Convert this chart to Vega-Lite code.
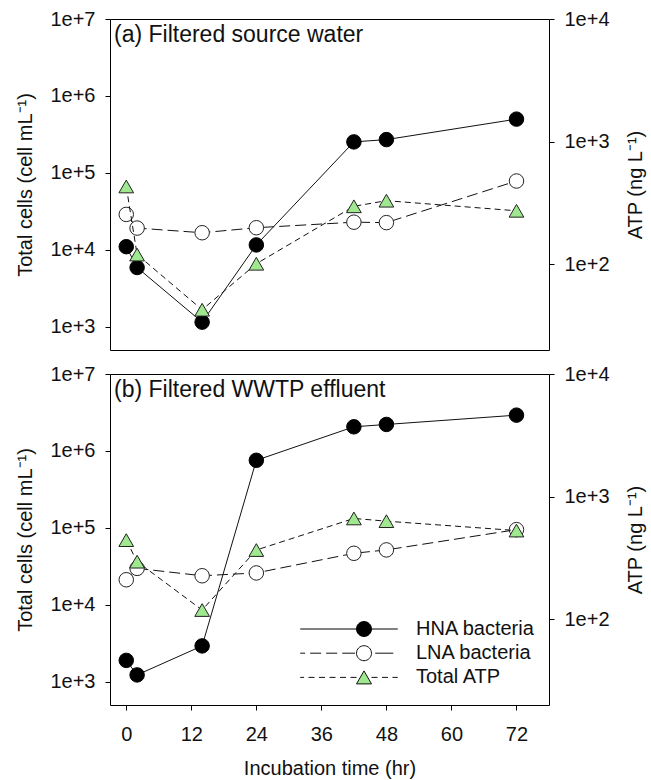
{
  "$schema": "https://vega.github.io/schema/vega-lite/v6.json",
  "padding": {"left": 15, "top": 8, "right": 5, "bottom": 5},
  "background": "white",
  "spacing": 24,
  "bounds": "flush",
  "datasets": {
    "obs": [
      {"panel": "a", "series": "HNA bacteria", "time": 0, "value": 11000},
      {"panel": "a", "series": "HNA bacteria", "time": 2, "value": 5900},
      {"panel": "a", "series": "HNA bacteria", "time": 14, "value": 1150},
      {"panel": "a", "series": "HNA bacteria", "time": 24, "value": 11600},
      {"panel": "a", "series": "HNA bacteria", "time": 42, "value": 253000},
      {"panel": "a", "series": "HNA bacteria", "time": 48, "value": 271000},
      {"panel": "a", "series": "HNA bacteria", "time": 72, "value": 500000},
      {"panel": "a", "series": "LNA bacteria", "time": 0, "value": 28900},
      {"panel": "a", "series": "LNA bacteria", "time": 2, "value": 19200},
      {"panel": "a", "series": "LNA bacteria", "time": 14, "value": 16700},
      {"panel": "a", "series": "LNA bacteria", "time": 24, "value": 19400},
      {"panel": "a", "series": "LNA bacteria", "time": 42, "value": 22900},
      {"panel": "a", "series": "LNA bacteria", "time": 48, "value": 22600},
      {"panel": "a", "series": "LNA bacteria", "time": 72, "value": 78500},
      {"panel": "a", "series": "Total ATP", "time": 0, "value": 431},
      {"panel": "a", "series": "Total ATP", "time": 2, "value": 120},
      {"panel": "a", "series": "Total ATP", "time": 14, "value": 42.6},
      {"panel": "a", "series": "Total ATP", "time": 24, "value": 101},
      {"panel": "a", "series": "Total ATP", "time": 42, "value": 297},
      {"panel": "a", "series": "Total ATP", "time": 48, "value": 330},
      {"panel": "a", "series": "Total ATP", "time": 72, "value": 273},
      {"panel": "b", "series": "HNA bacteria", "time": 0, "value": 1900},
      {"panel": "b", "series": "HNA bacteria", "time": 2, "value": 1230},
      {"panel": "b", "series": "HNA bacteria", "time": 14, "value": 2930},
      {"panel": "b", "series": "HNA bacteria", "time": 24, "value": 756000},
      {"panel": "b", "series": "HNA bacteria", "time": 42, "value": 2060000},
      {"panel": "b", "series": "HNA bacteria", "time": 48, "value": 2210000},
      {"panel": "b", "series": "HNA bacteria", "time": 72, "value": 2920000},
      {"panel": "b", "series": "LNA bacteria", "time": 0, "value": 21200},
      {"panel": "b", "series": "LNA bacteria", "time": 2, "value": 29800},
      {"panel": "b", "series": "LNA bacteria", "time": 14, "value": 23900},
      {"panel": "b", "series": "LNA bacteria", "time": 24, "value": 26000},
      {"panel": "b", "series": "LNA bacteria", "time": 42, "value": 46800},
      {"panel": "b", "series": "LNA bacteria", "time": 48, "value": 51800},
      {"panel": "b", "series": "LNA bacteria", "time": 72, "value": 95000},
      {"panel": "b", "series": "Total ATP", "time": 0, "value": 442},
      {"panel": "b", "series": "Total ATP", "time": 2, "value": 295},
      {"panel": "b", "series": "Total ATP", "time": 14, "value": 119},
      {"panel": "b", "series": "Total ATP", "time": 24, "value": 367},
      {"panel": "b", "series": "Total ATP", "time": 42, "value": 664},
      {"panel": "b", "series": "Total ATP", "time": 48, "value": 631},
      {"panel": "b", "series": "Total ATP", "time": 72, "value": 529}
    ]
  },
  "vconcat": [
    {
      "width": 439,
      "height": 331,
      "data": {"name": "obs"},
      "transform": [{"filter": "datum.panel == 'a'"}],
      "title": {"text": "(a) Filtered source water", "anchor": "start", "frame": "group", "orient": "top", "baseline": "top", "offset": 0, "dx": 4, "dy": 38, "fontSize": 23, "font": "Liberation Sans", "fontWeight": "normal", "color": "#111"},
      "encoding": {
        "x": {"field": "time", "type": "quantitative", "scale": {"domain": [-3, 78], "nice": false, "zero": false}, "axis": null}
      },
      "layer": [
        {
          "encoding": {
            "y": {"field": "value", "type": "quantitative", "scale": {"type": "log", "domain": [500, 10000000], "nice": false},
              "axis": {"title": "Total cells (cell mL⁻¹)", "values": [1000, 10000, 100000, 1000000, 10000000], "labelExpr": "'1e+' + round(log(datum.value) / LN10)", "labelPadding": 10, "titlePadding": 14}}
          },
          "layer": [
            {"transform": [{"filter": "datum.series == 'HNA bacteria'"}], "mark": {"type": "line", "stroke": "#111", "strokeWidth": 1}},
            {"transform": [{"filter": "datum.series == 'LNA bacteria'"}], "mark": {"type": "line", "stroke": "#111", "strokeWidth": 1, "strokeDash": [11, 5]}},
            {"transform": [{"filter": "datum.series == 'HNA bacteria'"}], "mark": {"type": "point", "shape": "circle", "filled": true, "fill": "#000", "stroke": "#000", "strokeWidth": 1, "size": 210, "opacity": 1}},
            {"transform": [{"filter": "datum.series == 'LNA bacteria'"}], "mark": {"type": "point", "shape": "circle", "filled": true, "fill": "#fff", "stroke": "#222", "strokeWidth": 1, "size": 210, "opacity": 1}}
          ]
        },
        {
          "transform": [{"filter": "datum.series == 'Total ATP'"}],
          "encoding": {
            "y": {"field": "value", "type": "quantitative", "scale": {"type": "log", "domain": [20, 10000], "nice": false},
              "axis": {"orient": "right", "title": "ATP (ng L⁻¹)", "values": [100, 1000, 10000], "labelExpr": "'1e+' + round(log(datum.value) / LN10)", "labelPadding": 10, "titlePadding": 16, "titleAngle": 270, "titleBaseline": "top"}}
          },
          "layer": [
            {"mark": {"type": "line", "stroke": "#111", "strokeWidth": 1, "strokeDash": [6, 4]}},
            {"mark": {"type": "point", "shape": "triangle-up", "filled": true, "fill": "#a0e890", "stroke": "#222", "strokeWidth": 1, "size": 216, "opacity": 1}}
          ]
        }
      ],
      "resolve": {"scale": {"y": "independent"}}
    },
    {
      "width": 439,
      "height": 331,
      "data": {"name": "obs"},
      "transform": [{"filter": "datum.panel == 'b'"}],
      "title": {"text": "(b) Filtered WWTP effluent", "anchor": "start", "frame": "group", "orient": "top", "baseline": "top", "offset": 0, "dx": 4, "dy": 38, "fontSize": 23, "font": "Liberation Sans", "fontWeight": "normal", "color": "#111"},
      "encoding": {
        "x": {"field": "time", "type": "quantitative", "scale": {"domain": [-3, 78], "nice": false, "zero": false},
          "axis": {"title": "Incubation time (hr)", "values": [0, 12, 24, 36, 48, 60, 72], "labelPadding": 14, "titlePadding": 14, "labelFlush": false}}
      },
      "layer": [
        {
          "encoding": {
            "y": {"field": "value", "type": "quantitative", "scale": {"type": "log", "domain": [500, 10000000], "nice": false},
              "axis": {"title": "Total cells (cell mL⁻¹)", "values": [1000, 10000, 100000, 1000000, 10000000], "labelExpr": "'1e+' + round(log(datum.value) / LN10)", "labelPadding": 10, "titlePadding": 14}}
          },
          "layer": [
            {"transform": [{"filter": "datum.series == 'HNA bacteria'"}], "mark": {"type": "line", "stroke": "#111", "strokeWidth": 1}},
            {"transform": [{"filter": "datum.series == 'LNA bacteria'"}], "mark": {"type": "line", "stroke": "#111", "strokeWidth": 1, "strokeDash": [11, 5]}},
            {"transform": [{"filter": "datum.series == 'HNA bacteria'"}], "mark": {"type": "point", "shape": "circle", "filled": true, "fill": "#000", "stroke": "#000", "strokeWidth": 1, "size": 210, "opacity": 1}},
            {"transform": [{"filter": "datum.series == 'LNA bacteria'"}], "mark": {"type": "point", "shape": "circle", "filled": true, "fill": "#fff", "stroke": "#222", "strokeWidth": 1, "size": 210, "opacity": 1}},
            {
              "transform": [{"filter": "false"}],
              "mark": {"type": "point", "filled": true, "strokeWidth": 1, "size": 225, "opacity": 1},
              "encoding": {
                "shape": {"field": "series", "type": "nominal",
                  "scale": {"domain": ["HNA bacteria", "LNA bacteria", "Total ATP"],
                    "range": [
                      "M-8.5,0H-1M1,0H4.5M-1,0A1,1,0,1,1,1,0A1,1,0,1,1,-1,0Z",
                      "M-8.5,0H-7.85M-7.18,0H-5.71M-5.04,0H-3.57M-2.9,0H-1.2M1.5,0H3.9M-1,0A1,1,0,1,1,1,0A1,1,0,1,1,-1,0Z",
                      "M-8.5,0H-8M-7.4,0H-6.6M-6,0H-5.2M-4.6,0H-3.8M-3.2,0H-2.4M-1.8,0H-1M1,0H1.8M2.4,0H3.2M3.8,0H4.5M0,-0.866L1,0.866L-1,0.866Z"
                    ]},
                  "legend": {"orient": "none", "legendX": 244, "legendY": 600, "title": null, "labelFontSize": 20, "labelFont": "Liberation Sans", "labelColor": "#111", "labelOffset": 42, "rowPadding": 4.2, "symbolSize": 225, "symbolStrokeWidth": 1, "padding": 0}},
                "fill": {"field": "series", "type": "nominal",
                  "scale": {"domain": ["HNA bacteria", "LNA bacteria", "Total ATP"], "range": ["#000", "#fff", "#a0e890"]},
                  "legend": {"orient": "none", "legendX": 244, "legendY": 600, "title": null, "labelFontSize": 20, "labelFont": "Liberation Sans", "labelColor": "#111", "labelOffset": 42, "rowPadding": 4.2, "symbolSize": 225, "symbolStrokeWidth": 1, "padding": 0}},
                "stroke": {"field": "series", "type": "nominal",
                  "scale": {"domain": ["HNA bacteria", "LNA bacteria", "Total ATP"], "range": ["#000", "#111", "#111"]},
                  "legend": {"orient": "none", "legendX": 244, "legendY": 600, "title": null, "labelFontSize": 20, "labelFont": "Liberation Sans", "labelColor": "#111", "labelOffset": 42, "rowPadding": 4.2, "symbolSize": 225, "symbolStrokeWidth": 1, "padding": 0}}
              }
            }
          ]
        },
        {
          "transform": [{"filter": "datum.series == 'Total ATP'"}],
          "encoding": {
            "y": {"field": "value", "type": "quantitative", "scale": {"type": "log", "domain": [20, 10000], "nice": false},
              "axis": {"orient": "right", "title": "ATP (ng L⁻¹)", "values": [100, 1000, 10000], "labelExpr": "'1e+' + round(log(datum.value) / LN10)", "labelPadding": 10, "titlePadding": 16, "titleAngle": 270, "titleBaseline": "top"}}
          },
          "layer": [
            {"mark": {"type": "line", "stroke": "#111", "strokeWidth": 1, "strokeDash": [6, 4]}},
            {"mark": {"type": "point", "shape": "triangle-up", "filled": true, "fill": "#a0e890", "stroke": "#222", "strokeWidth": 1, "size": 216, "opacity": 1}}
          ]
        }
      ],
      "resolve": {"scale": {"y": "independent"}}
    }
  ],
  "config": {
    "font": "Liberation Sans",
    "view": {"stroke": "#000", "strokeWidth": 1},
    "axis": {"grid": false, "domain": false, "tickColor": "#000", "tickSize": 5, "labelFontSize": 20, "titleFontSize": 20, "titleFontWeight": "normal", "labelColor": "#111", "titleColor": "#111", "labelFont": "Liberation Sans", "titleFont": "Liberation Sans"}
  }
}
